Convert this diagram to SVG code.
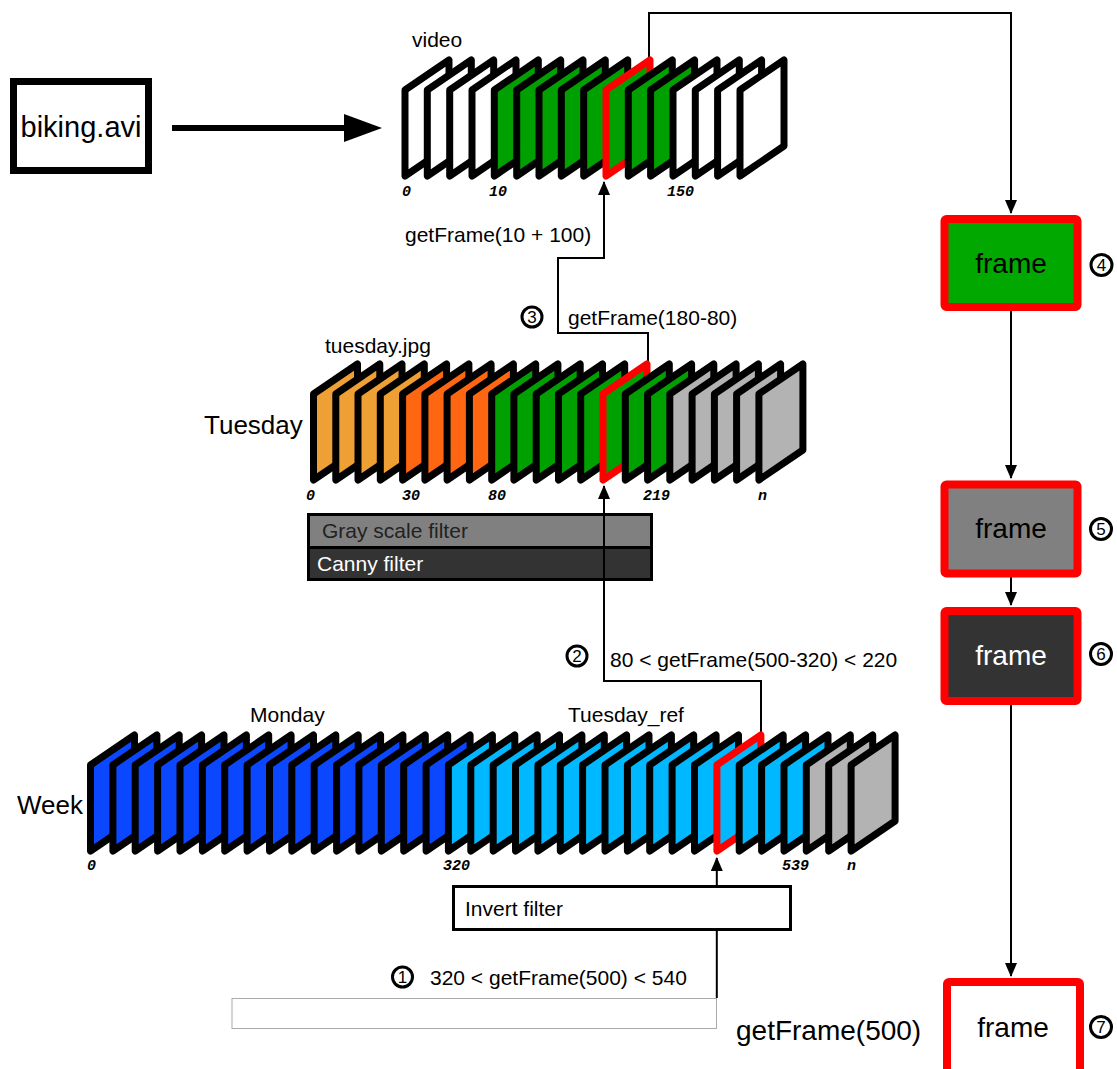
<svg xmlns="http://www.w3.org/2000/svg" xmlns:xlink="http://www.w3.org/1999/xlink" width="1117" height="1069" viewBox="0 0 1117 1069">
<style>
text{font-family:"Liberation Sans",Arial,sans-serif;fill:#000}
.s{font-size:21px}
.l{font-size:26px}
.xl{font-size:28px}
.idx{font-family:"Liberation Mono","Courier New",monospace;font-size:15px;font-weight:bold;font-style:italic}
.fr{stroke:#000;stroke-width:7;stroke-linejoin:round}
.red{stroke:#f00}
.w{fill:#fff}.g{fill:#00a000}.lo{fill:#eea035}.o{fill:#ff6611}.gr{fill:#b3b3b3}.b{fill:#0a47ff}.lb{fill:#00b8ff}
.cn{fill:none;stroke:#000;stroke-width:2}
.num{fill:#fff;stroke:#000;stroke-width:3}
.numt{font-size:17px;text-anchor:middle}
.box{stroke:#f00;stroke-width:8;stroke-linejoin:round}
.bt{font-size:28px;text-anchor:middle}
</style>
<defs>
<polygon id="fr" points="0,0 0,-86 44,-116 44,-30"/>
<marker id="ah" markerUnits="userSpaceOnUse" markerWidth="14" markerHeight="12" viewBox="0 0 14 12" refX="13" refY="6" orient="auto">
<path d="M0,0 L14,6 L0,12 z" fill="#000"/>
</marker>
</defs>

<g id="node-filters">
<rect x="308.5" y="514.5" width="343" height="33" fill="#808080" stroke="#000" stroke-width="3"/>
<rect x="308.5" y="547.5" width="343" height="32" fill="#333" stroke="#000" stroke-width="3"/>
<text class="s" x="322" y="538" style="fill:#222">Gray scale filter</text>
<text class="s" x="317" y="571" style="fill:#fff">Canny filter</text>
</g>

<g id="connectors">
<path class="cn" d="M649,58 V13 H1011 V213" marker-end="url(#ah)"/>
<path class="cn" d="M648,362 V333 H558 V258 H604 V182" marker-end="url(#ah)"/>
<path class="cn" d="M761,733 V681 H604 V486" marker-end="url(#ah)"/>
<path class="cn" d="M716.8,998 V858" marker-end="url(#ah)"/>
<path class="cn" d="M1011,311 V478" marker-end="url(#ah)"/>
<path class="cn" d="M1011,577 V605" marker-end="url(#ah)"/>
<path class="cn" d="M1011,705 V976" marker-end="url(#ah)"/>
<rect x="232" y="998.5" width="484.5" height="30" fill="none" stroke="#aaa" stroke-width="1"/>
<line x1="172" y1="128" x2="350" y2="128" stroke="#000" stroke-width="6"/>
<polygon points="344,114 382,128 344,142" fill="#000"/>
</g>

<g id="node-biking">
<rect x="13.5" y="81.5" width="135" height="89" fill="#fff" stroke="#000" stroke-width="7"/>
<text class="xl" x="81" y="137" text-anchor="middle" style="font-size:29px">biking.avi</text>
</g>

<g id="node-video">
<text class="s" x="412" y="47">video</text>
<use xlink:href="#fr" x="405" y="176" class="fr w"/>
<use xlink:href="#fr" x="427.3" y="176" class="fr w"/>
<use xlink:href="#fr" x="449.7" y="176" class="fr w"/>
<use xlink:href="#fr" x="472" y="176" class="fr w"/>
<use xlink:href="#fr" x="494.3" y="176" class="fr g"/>
<use xlink:href="#fr" x="516.7" y="176" class="fr g"/>
<use xlink:href="#fr" x="539" y="176" class="fr g"/>
<use xlink:href="#fr" x="561.3" y="176" class="fr g"/>
<use xlink:href="#fr" x="583.7" y="176" class="fr g"/>
<use xlink:href="#fr" x="606" y="176" class="fr g red"/>
<use xlink:href="#fr" x="628.3" y="176" class="fr g"/>
<use xlink:href="#fr" x="650.6" y="176" class="fr g"/>
<use xlink:href="#fr" x="673" y="176" class="fr w"/>
<use xlink:href="#fr" x="695.3" y="176" class="fr w"/>
<use xlink:href="#fr" x="717.6" y="176" class="fr w"/>
<use xlink:href="#fr" x="740" y="176" class="fr w"/>
<text class="idx" x="402" y="196">0</text>
<text class="idx" x="489" y="196">10</text>
<text class="idx" x="667" y="196">150</text>
</g>

<g id="node-tuesday">
<text class="l" x="204" y="434">Tuesday</text>
<text class="s" x="325" y="353">tuesday.jpg</text>
<use xlink:href="#fr" x="313.5" y="480" class="fr lo"/>
<use xlink:href="#fr" x="335.8" y="480" class="fr lo"/>
<use xlink:href="#fr" x="358" y="480" class="fr lo"/>
<use xlink:href="#fr" x="380.3" y="480" class="fr lo"/>
<use xlink:href="#fr" x="402.6" y="480" class="fr o"/>
<use xlink:href="#fr" x="424.9" y="480" class="fr o"/>
<use xlink:href="#fr" x="447.1" y="480" class="fr o"/>
<use xlink:href="#fr" x="469.4" y="480" class="fr o"/>
<use xlink:href="#fr" x="491.7" y="480" class="fr g"/>
<use xlink:href="#fr" x="513.9" y="480" class="fr g"/>
<use xlink:href="#fr" x="536.2" y="480" class="fr g"/>
<use xlink:href="#fr" x="558.5" y="480" class="fr g"/>
<use xlink:href="#fr" x="580.7" y="480" class="fr g"/>
<use xlink:href="#fr" x="603" y="480" class="fr g red"/>
<use xlink:href="#fr" x="625.3" y="480" class="fr g"/>
<use xlink:href="#fr" x="647.6" y="480" class="fr g"/>
<use xlink:href="#fr" x="669.8" y="480" class="fr gr"/>
<use xlink:href="#fr" x="692.1" y="480" class="fr gr"/>
<use xlink:href="#fr" x="714.4" y="480" class="fr gr"/>
<use xlink:href="#fr" x="736.6" y="480" class="fr gr"/>
<use xlink:href="#fr" x="758.9" y="480" class="fr gr"/>
<text class="idx" x="306" y="500">0</text>
<text class="idx" x="402" y="500">30</text>
<text class="idx" x="488" y="500">80</text>
<text class="idx" x="643" y="500">219</text>
<text class="idx" x="758" y="500">n</text>
</g>

<g id="node-week">
<text class="l" x="17" y="814">Week</text>
<text class="s" x="250" y="722">Monday</text>
<text class="s" x="568" y="722">Tuesday_ref</text>
<use xlink:href="#fr" x="90.5" y="851" class="fr b"/>
<use xlink:href="#fr" x="112.9" y="851" class="fr b"/>
<use xlink:href="#fr" x="135.2" y="851" class="fr b"/>
<use xlink:href="#fr" x="157.6" y="851" class="fr b"/>
<use xlink:href="#fr" x="180" y="851" class="fr b"/>
<use xlink:href="#fr" x="202.4" y="851" class="fr b"/>
<use xlink:href="#fr" x="224.7" y="851" class="fr b"/>
<use xlink:href="#fr" x="247.1" y="851" class="fr b"/>
<use xlink:href="#fr" x="269.5" y="851" class="fr b"/>
<use xlink:href="#fr" x="291.8" y="851" class="fr b"/>
<use xlink:href="#fr" x="314.2" y="851" class="fr b"/>
<use xlink:href="#fr" x="336.6" y="851" class="fr b"/>
<use xlink:href="#fr" x="358.9" y="851" class="fr b"/>
<use xlink:href="#fr" x="381.3" y="851" class="fr b"/>
<use xlink:href="#fr" x="403.7" y="851" class="fr b"/>
<use xlink:href="#fr" x="426.1" y="851" class="fr b"/>
<use xlink:href="#fr" x="448.4" y="851" class="fr lb"/>
<use xlink:href="#fr" x="470.8" y="851" class="fr lb"/>
<use xlink:href="#fr" x="493.2" y="851" class="fr lb"/>
<use xlink:href="#fr" x="515.5" y="851" class="fr lb"/>
<use xlink:href="#fr" x="537.9" y="851" class="fr lb"/>
<use xlink:href="#fr" x="560.3" y="851" class="fr lb"/>
<use xlink:href="#fr" x="582.6" y="851" class="fr lb"/>
<use xlink:href="#fr" x="605" y="851" class="fr lb"/>
<use xlink:href="#fr" x="627.4" y="851" class="fr lb"/>
<use xlink:href="#fr" x="649.7" y="851" class="fr lb"/>
<use xlink:href="#fr" x="672.1" y="851" class="fr lb"/>
<use xlink:href="#fr" x="694.5" y="851" class="fr lb"/>
<use xlink:href="#fr" x="716.9" y="851" class="fr lb red"/>
<use xlink:href="#fr" x="739.2" y="851" class="fr lb"/>
<use xlink:href="#fr" x="761.6" y="851" class="fr lb"/>
<use xlink:href="#fr" x="784" y="851" class="fr lb"/>
<use xlink:href="#fr" x="806.3" y="851" class="fr gr"/>
<use xlink:href="#fr" x="828.7" y="851" class="fr gr"/>
<use xlink:href="#fr" x="851.1" y="851" class="fr gr"/>
<text class="idx" x="87" y="870">0</text>
<text class="idx" x="443" y="870">320</text>
<text class="idx" x="782" y="870">539</text>
<text class="idx" x="847" y="870">n</text>
</g>

<g id="node-invert">
<rect x="453.5" y="886.5" width="337" height="43" fill="#fff" stroke="#000" stroke-width="3"/>
<text class="s" x="465" y="916">Invert filter</text>
</g>

<g id="labels">
<text class="s" x="405" y="242">getFrame(10 + 100)</text>
<circle class="num" cx="532" cy="317" r="10"/><text class="numt" x="532" y="323">3</text>
<text class="s" x="568" y="325">getFrame(180-80)</text>
<circle class="num" cx="577" cy="656" r="10"/><text class="numt" x="577" y="662">2</text>
<text class="s" x="610" y="667">80 &lt; getFrame(500-320) &lt; 220</text>
<circle class="num" cx="402.5" cy="977" r="10"/><text class="numt" x="402.5" y="983">1</text>
<text class="s" x="430" y="985">320 &lt; getFrame(500) &lt; 540</text>
<text class="xl" x="736" y="1040">getFrame(500)</text>
</g>

<g id="node-frame4">
<rect class="box" x="944.5" y="219" width="133" height="88" rx="2" fill="#00a800"/>
<text class="bt" x="1011" y="273">frame</text>
<circle class="num" cx="1101.5" cy="265" r="10.5"/><text class="numt" x="1101.5" y="271">4</text>
</g>
<g id="node-frame5">
<rect class="box" x="944.5" y="484.5" width="133" height="89" rx="2" fill="#808080"/>
<text class="bt" x="1011" y="538">frame</text>
<circle class="num" cx="1101" cy="529" r="10.5"/><text class="numt" x="1101" y="535">5</text>
</g>
<g id="node-frame6">
<rect class="box" x="944.5" y="611" width="133" height="90" rx="2" fill="#333"/>
<text class="bt" x="1011" y="665" style="fill:#fff">frame</text>
<circle class="num" cx="1101" cy="654" r="10.5"/><text class="numt" x="1101" y="660">6</text>
</g>
<g id="node-frame7">
<rect class="box" x="947" y="982" width="133" height="100" rx="2" fill="#fff"/>
<text class="bt" x="1013" y="1037">frame</text>
<circle class="num" cx="1101" cy="1027" r="10.5"/><text class="numt" x="1101" y="1033">7</text>
</g>
</svg>
